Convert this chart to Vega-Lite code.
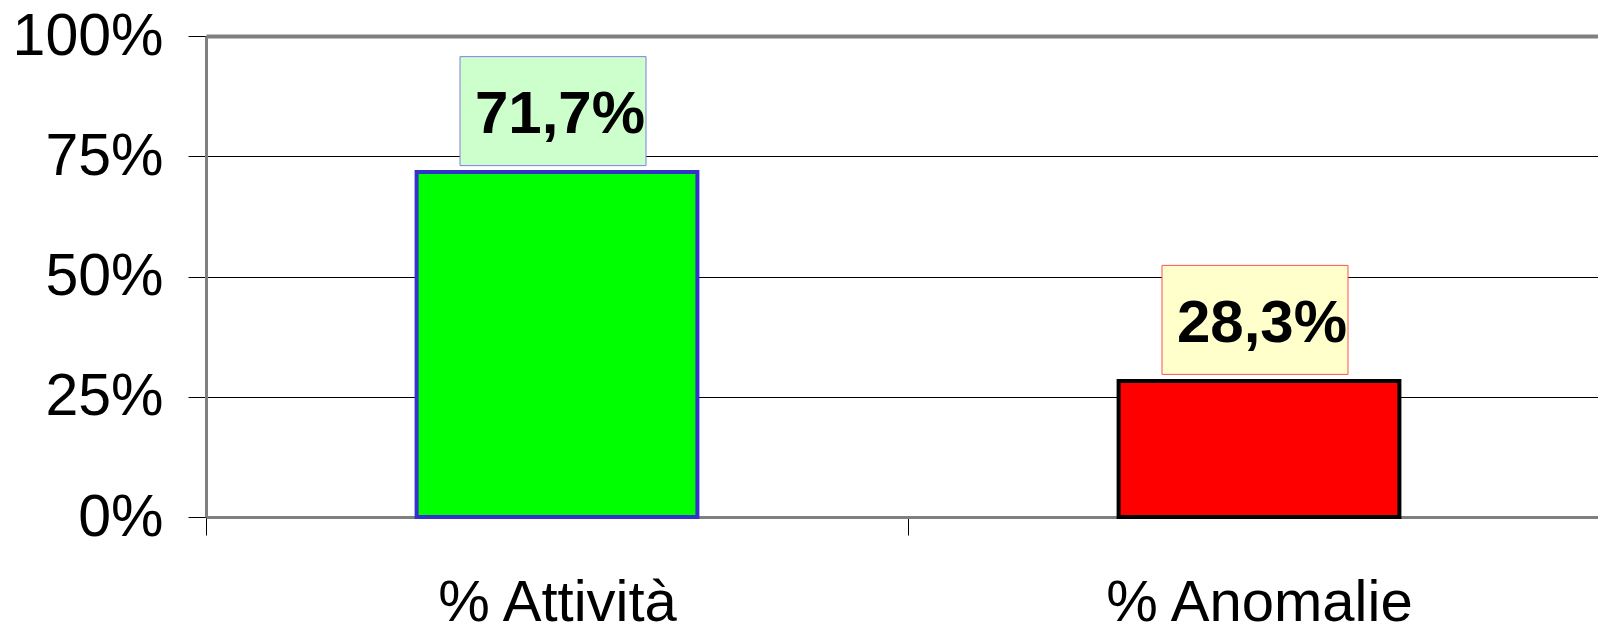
{
  "$schema": "https://vega.github.io/schema/vega-lite/v6.json",
  "width": 1392,
  "height": 481,
  "autosize": {"type": "none"},
  "padding": {"left": 206, "top": 36, "right": 0, "bottom": 109},
  "background": "white",
  "config": {"view": {"stroke": null}, "font": "Liberation Sans"},
  "data": {
    "values": [
      {"categoria": "% Attività", "valore": 0.717, "etichetta": "71,7%"},
      {"categoria": "% Anomalie", "valore": 0.283, "etichetta": "28,3%"}
    ]
  },
  "encoding": {
    "x": {
      "field": "categoria",
      "type": "nominal",
      "sort": null,
      "scale": {"range": [0, 1404], "paddingInner": 0, "paddingOuter": 0},
      "axis": {
        "title": null,
        "labelAngle": 0,
        "labelFont": "Liberation Sans",
        "labelFontSize": 58,
        "labelColor": "black",
        "labelPadding": 39,
        "labelLimit": 0,
        "labelOverlap": false,
        "tickBand": "extent",
        "tickSize": 18,
        "tickColor": "black",
        "tickWidth": 1,
        "domainColor": "#808080",
        "domainWidth": 3,
        "grid": false
      }
    },
    "y": {
      "field": "valore",
      "type": "quantitative",
      "scale": {"domain": [0, 1], "nice": false},
      "axis": {
        "title": null,
        "values": [0, 0.25, 0.5, 0.75, 1],
        "format": ".0%",
        "labelFont": "Liberation Sans",
        "labelFontSize": 59,
        "labelColor": "black",
        "labelPadding": 25,
        "labelLimit": 0,
        "tickSize": 18,
        "tickColor": "black",
        "tickWidth": 1,
        "domainColor": "#808080",
        "domainWidth": 3,
        "grid": true,
        "gridColor": {"condition": {"test": "datum.value === 1", "value": "#808080"}, "value": "black"},
        "gridWidth": {"condition": {"test": "datum.value === 1", "value": 4}, "value": 1},
        "gridOpacity": 1
      }
    }
  },
  "layer": [
    {
      "mark": {"type": "bar", "width": {"band": 0.4}, "strokeWidth": 4},
      "encoding": {
        "fill": {"field": "categoria", "type": "nominal", "sort": null, "scale": {"domain": ["% Attività", "% Anomalie"], "range": ["#00ff00", "#ff0000"]}, "legend": null},
        "stroke": {"field": "categoria", "type": "nominal", "sort": null, "scale": {"domain": ["% Attività", "% Anomalie"], "range": ["#3333cc", "#000000"]}, "legend": null}
      }
    },
    {
      "mark": {
        "type": "point",
        "shape": "M-1,-0.586L1,-0.586L1,0.586L-1,0.586Z",
        "size": 34596,
        "filled": true,
        "opacity": 1,
        "strokeWidth": 1,
        "xOffset": -4,
        "yOffset": -61
      },
      "encoding": {
        "fill": {"field": "categoria", "type": "nominal", "sort": null, "scale": {"domain": ["% Attività", "% Anomalie"], "range": ["#ccffcc", "#ffffcc"]}, "legend": null},
        "stroke": {"field": "categoria", "type": "nominal", "sort": null, "scale": {"domain": ["% Attività", "% Anomalie"], "range": ["#7f7fe6", "#ff5050"]}, "legend": null}
      }
    },
    {
      "mark": {
        "type": "text",
        "font": "Liberation Sans",
        "fontSize": 60,
        "fontWeight": "bold",
        "align": "center",
        "baseline": "alphabetic",
        "color": "black",
        "xOffset": 3,
        "yOffset": -39
      },
      "encoding": {
        "text": {"field": "etichetta", "type": "nominal"}
      }
    }
  ],
  "resolve": {"scale": {"fill": "independent", "stroke": "independent"}}
}
